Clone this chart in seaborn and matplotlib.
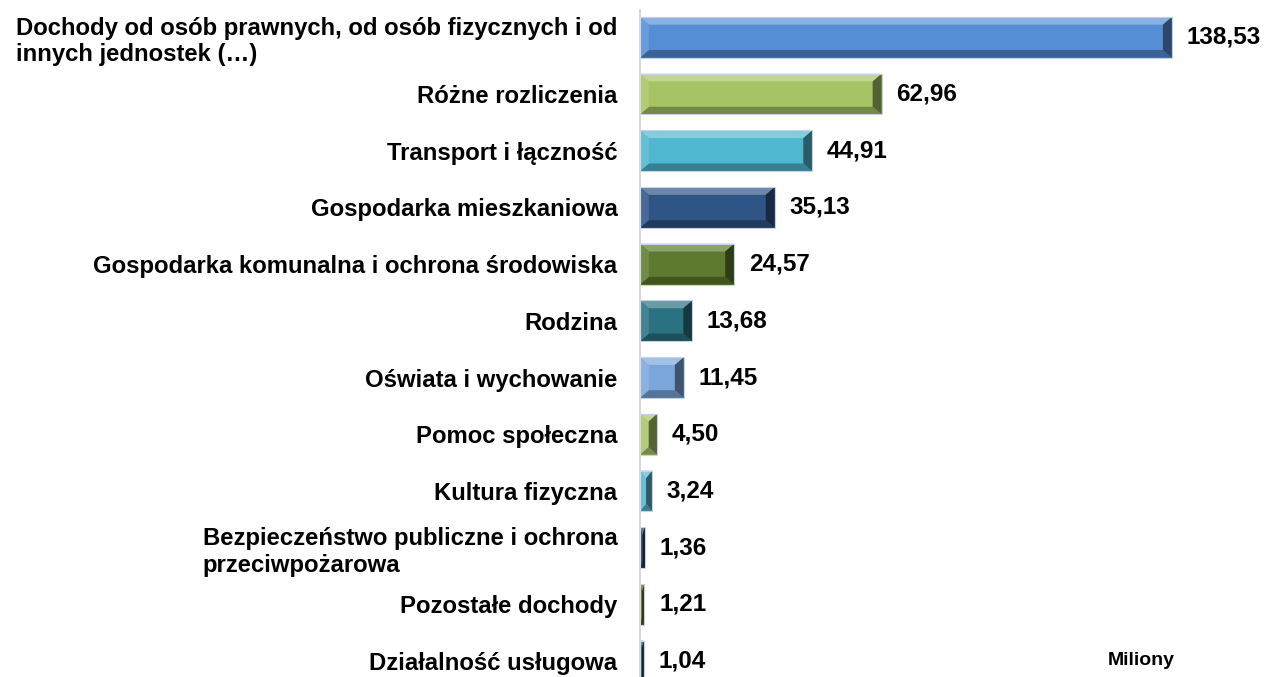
import numpy as np
import pandas as pd
import matplotlib
matplotlib.use('Agg')
import matplotlib.pyplot as plt
import matplotlib.colors as mcolors
from matplotlib.patches import Polygon
import seaborn as sns

# dane
kategorie = [
    'Dochody od osób prawnych, od osób fizycznych i od\ninnych jednostek (…)',
    'Różne rozliczenia',
    'Transport i łączność',
    'Gospodarka mieszkaniowa',
    'Gospodarka komunalna i ochrona środowiska',
    'Rodzina',
    'Oświata i wychowanie',
    'Pomoc społeczna',
    'Kultura fizyczna',
    'Bezpieczeństwo publiczne i ochrona\nprzeciwpożarowa',
    'Pozostałe dochody',
    'Działalność usługowa',
]
wartosci = [138.53, 62.96, 44.91, 35.13, 24.57, 13.68, 11.45, 4.50, 3.24, 1.36, 1.21, 1.04]
etykiety = ['138,53', '62,96', '44,91', '35,13', '24,57', '13,68', '11,45', '4,50', '3,24', '1,36', '1,21', '1,04']
kolory = ['#558ED5', '#A6C463', '#4FB7CF', '#2F5486', '#5E7A2E', '#2A7282',
          '#7AA6DC', '#A9C566', '#57B5CF', '#1F3A5F', '#4C5A1E', '#1D4A5A']

df = pd.DataFrame({'kategoria': kategorie, 'wartosc': wartosci})

sns.set_style('white')
plt.rcParams['font.family'] = ['Liberation Sans', 'DejaVu Sans']
plt.rcParams['text.color'] = 'black'
plt.rcParams['ytick.color'] = 'black'

fig = plt.figure(figsize=(12.67, 6.77), dpi=100)
ax = fig.add_axes([0.505, 0.0, 0.485, 0.985])

sns.barplot(data=df, x='wartosc', y='kategoria', hue='kategoria', palette=kolory,
            legend=False, width=0.72, ax=ax, saturation=1)

ax.set_xlim(0, 160)
ax.set_ylim(11.28, -0.48)


def bevel(ax, p, kolor):
    # efekt "fazowania" jak w Excelu
    x0, y0 = p.get_x(), p.get_y()
    w, h = p.get_width(), p.get_height()
    x1, y1 = x0 + w, y0 + h
    # os odwrocona: y0 = gora slupka
    dy = h * 0.19
    px = 9 / (ax.transData.transform((1, 0))[0] - ax.transData.transform((0, 0))[0])
    dx = min(px, w / 2)
    c = np.array(mcolors.to_rgb(kolor))
    jasny = c + (1 - c) * 0.3
    ciemny = c * 0.5
    sredni = c + (1 - c) * 0.12
    # gora
    ax.add_patch(Polygon([(x0, y0), (x1, y0), (x1 - dx, y0 + dy), (x0 + dx, y0 + dy)],
                         closed=True, color=jasny, lw=0))
    # dol
    ax.add_patch(Polygon([(x0, y1), (x1, y1), (x1 - dx, y1 - dy), (x0 + dx, y1 - dy)],
                         closed=True, color=c * 0.7, lw=0))
    # prawa
    ax.add_patch(Polygon([(x1, y0), (x1, y1), (x1 - dx, y1 - dy), (x1 - dx, y0 + dy)],
                         closed=True, color=ciemny, lw=0))
    # lewa
    ax.add_patch(Polygon([(x0, y0), (x0, y1), (x0 + dx, y1 - dy), (x0 + dx, y0 + dy)],
                         closed=True, color=sredni, lw=0))
    ax.add_patch(Polygon([(x0, y0), (x1, y0), (x1, y1), (x0, y1)], closed=True,
                         fill=False, edgecolor='#C5D3E2', lw=0.8))


slupki = ax.patches[:len(wartosci)]
for p, k in zip(slupki, kolory):
    p.set_linewidth(0)
    bevel(ax, p, k)

for p, e in zip(slupki, etykiety):
    ax.annotate(e, (p.get_x() + p.get_width(), p.get_y() + p.get_height() / 2),
                xytext=(10.5, 0), textcoords='offset points', va='center', ha='left',
                fontsize=17.5, fontweight='bold', color='black')

ax.set_xlabel('')
ax.set_ylabel('')
ax.set_xticks([])
ax.tick_params(axis='y', length=0, pad=16)
for t in ax.get_yticklabels():
    t.set_fontsize(17.2)
    t.set_fontweight('bold')
    t.set_multialignment('left')
    t.set_color('black')

for s in ['top', 'right', 'bottom']:
    ax.spines[s].set_visible(False)
ax.spines['left'].set_color('#D9D9D9')
ax.spines['left'].set_linewidth(1.5)

fig.text(0.874, 0.024, 'Miliony', fontsize=14, fontweight='bold', ha='left', va='center')

fig.savefig('out.png', dpi=100)
